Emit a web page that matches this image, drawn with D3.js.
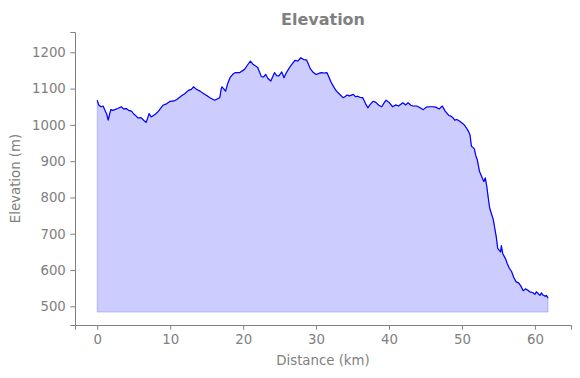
<!DOCTYPE html>
<html>
<head>
<meta charset="utf-8">
<script src="https://cdn.jsdelivr.net/npm/d3@7"></script>
<style>
  body { margin: 0; background: #fff; }
  text { font-family: "DejaVu Sans", sans-serif; fill: #808080; }
</style>
</head>
<body>
<div id="chart"></div>
<script>
// distance along the route (km) and elevation (m)
var distance = [0, 0.2, 0.5, 0.8, 1.1, 1.3, 1.5, 1.7, 1.85, 2.1, 2.4, 2.8, 3.3, 3.6, 4.0, 4.3, 4.7, 5.0, 5.3, 5.6,
	6.0, 6.4, 6.7, 6.9, 7.1, 7.4, 7.7, 8.0, 8.4, 8.7, 9.0, 9.5, 10.0, 10.5, 10.9, 11.3, 11.6, 12.0, 12.5, 12.9,
	13.2, 13.6, 14.1, 14.5, 15.0, 15.5, 16.1, 16.5, 16.8, 17.0, 17.1, 17.4, 17.6, 17.9, 18.2, 18.6, 18.9, 19.5, 20.2, 20.6,
	21.0, 21.3, 21.6, 22.0, 22.5, 22.8, 23.1, 23.4, 23.8, 24.1, 24.3, 24.6, 24.9, 25.3, 25.6, 25.9, 26.2, 26.6, 27.1, 27.5,
	27.9, 28.3, 28.7, 29.0, 29.2, 29.6, 30.0, 30.4, 30.7, 31.1, 31.5, 31.8, 32.1, 32.5, 32.8, 33.2, 33.7, 34.0, 34.2, 34.6,
	35.1, 35.4, 35.7, 36.0, 36.4, 36.8, 37.1, 37.4, 37.8, 38.2, 38.6, 39.0, 39.3, 39.6, 40.0, 40.5, 40.9, 41.3, 41.9, 42.3,
	42.6, 43.0, 43.3, 43.8, 44.2, 44.7, 45.1, 45.5, 46.0, 46.4, 46.9, 47.3, 47.7, 48.2, 48.5, 48.8, 49.0, 49.3, 49.7, 50.1,
	50.4, 50.6, 50.9, 51.1, 51.3, 51.5, 51.7, 51.9, 52.1, 52.4, 52.7, 53.0, 53.2, 53.4, 53.6, 53.8, 54.0, 54.3, 54.5, 54.7,
	54.9, 55.1, 55.3, 55.4, 55.6, 56.0, 56.2, 56.5, 56.8, 57.1, 57.4, 57.8, 58.1, 58.4, 58.7, 59.0, 59.3, 59.7, 60.0, 60.2,
	60.4, 60.7, 60.9, 61.1, 61.4, 61.6, 61.8];
var elevation = [1068, 1055, 1050, 1052, 1038, 1030, 1013, 1030, 1042, 1040, 1042, 1045, 1050, 1044, 1045, 1040, 1038, 1030, 1025, 1019,
	1020, 1012, 1007, 1018, 1031, 1022, 1026, 1030, 1038, 1046, 1054, 1058, 1065, 1066, 1070, 1076, 1081, 1086, 1095, 1098,
	1105, 1098, 1093, 1087, 1081, 1074, 1068, 1072, 1075, 1100, 1105, 1098, 1093, 1115, 1130, 1140, 1144, 1144, 1153, 1165,
	1176, 1168, 1164, 1158, 1133, 1132, 1139, 1128, 1121, 1135, 1144, 1136, 1135, 1146, 1130, 1143, 1153, 1165, 1178, 1176,
	1185, 1180, 1179, 1165, 1155, 1145, 1139, 1142, 1144, 1143, 1144, 1130, 1116, 1102, 1093, 1085, 1075, 1078, 1082, 1080,
	1084, 1078, 1079, 1076, 1075, 1058, 1047, 1056, 1065, 1062, 1054, 1050, 1060, 1068, 1062, 1050, 1055, 1052, 1061, 1055,
	1061, 1054, 1052, 1052, 1048, 1042, 1049, 1050, 1050, 1049, 1044, 1052, 1038, 1026, 1024, 1019, 1013, 1015, 1010, 1004,
	998, 992, 982, 973, 941, 938, 934, 915, 904, 872, 858, 844, 854, 831, 800, 771, 758, 739, 715, 692,
	660, 655, 650, 667, 645, 630, 618, 605, 596, 580, 568, 564, 555, 543, 548, 545, 540, 538, 533, 540,
	536, 530, 537, 531, 528, 530, 522];
var fillBase = 484;
var xTicks = [0, 10, 20, 30, 40, 50, 60];
var yTicks = [500, 600, 700, 800, 900, 1000, 1100, 1200];

var data = distance.map(function (d, i) {
	return { km: d, elev: elevation[i] };
});

var W = 580, H = 378;
var margin = { top: 32, right: 9, bottom: 53, left: 75 };
var width = W - margin.left - margin.right;
var height = H - margin.top - margin.bottom;

var svg = d3.select("#chart")
	.append("svg")
	.attr("width", W)
	.attr("height", H);

var g = svg.append("g")
	.attr("transform", "translate(" + margin.left + "," + margin.top + ")");

var x = d3.scaleLinear().domain([-3.05, 64.95]).range([0, width]);
var y = d3.scaleLinear().domain([448.5, 1256]).range([height, 0]);

var area = d3.area()
	.x(function (d) { return x(d.km); })
	.y0(y(fillBase))
	.y1(function (d) { return y(d.elev); });

var line = d3.line()
	.x(function (d) { return x(d.km); })
	.y(function (d) { return y(d.elev); });

g.append("path")
	.attr("d", area(data))
	.attr("fill", "rgba(0,0,255,0.2)")
	.attr("stroke", "rgba(0,0,255,0.2)")
	.attr("stroke-width", 1);

g.append("path")
	.attr("d", line(data))
	.attr("fill", "none")
	.attr("stroke", "#0000ff")
	.attr("stroke-width", 1.2)
	.attr("stroke-linejoin", "round");

// axes, matplotlib look: left + bottom spines only
var xAxis = d3.axisBottom(x).tickValues(xTicks).tickFormat(d3.format("d"))
	.tickSizeOuter(0).tickSize(4.7).tickPadding(4.5);
var yAxis = d3.axisLeft(y).tickValues(yTicks).tickFormat(d3.format("d"))
	.tickSizeOuter(0).tickSize(4.7).tickPadding(4.5);

var gx = g.append("g")
	.attr("transform", "translate(0," + height + ")")
	.call(xAxis);
var gy = g.append("g").call(yAxis);

[gx, gy].forEach(function (a) {
	a.select(".domain").attr("stroke", "#808080").attr("stroke-width", 1);
	a.selectAll(".tick line").attr("stroke", "#808080").attr("stroke-width", 1);
	a.selectAll(".tick text")
		.attr("fill", "#808080")
		.style("font-family", "DejaVu Sans, sans-serif")
		.style("font-size", "13.3px");
});

svg.append("text")
	.attr("x", margin.left + width / 2)
	.attr("y", 25)
	.attr("text-anchor", "middle")
	.style("font-size", "16px")
	.style("font-weight", "bold")
	.text("Elevation");

svg.append("text")
	.attr("x", margin.left + width / 2)
	.attr("y", 365)
	.attr("text-anchor", "middle")
	.style("font-size", "13.3px")
	.text("Distance (km)");

svg.append("text")
	.attr("transform", "translate(19.5," + (margin.top + height / 2) + ") rotate(-90)")
	.attr("text-anchor", "middle")
	.style("font-size", "13.3px")
	.text("Elevation (m)");
</script>
</body>
</html>
